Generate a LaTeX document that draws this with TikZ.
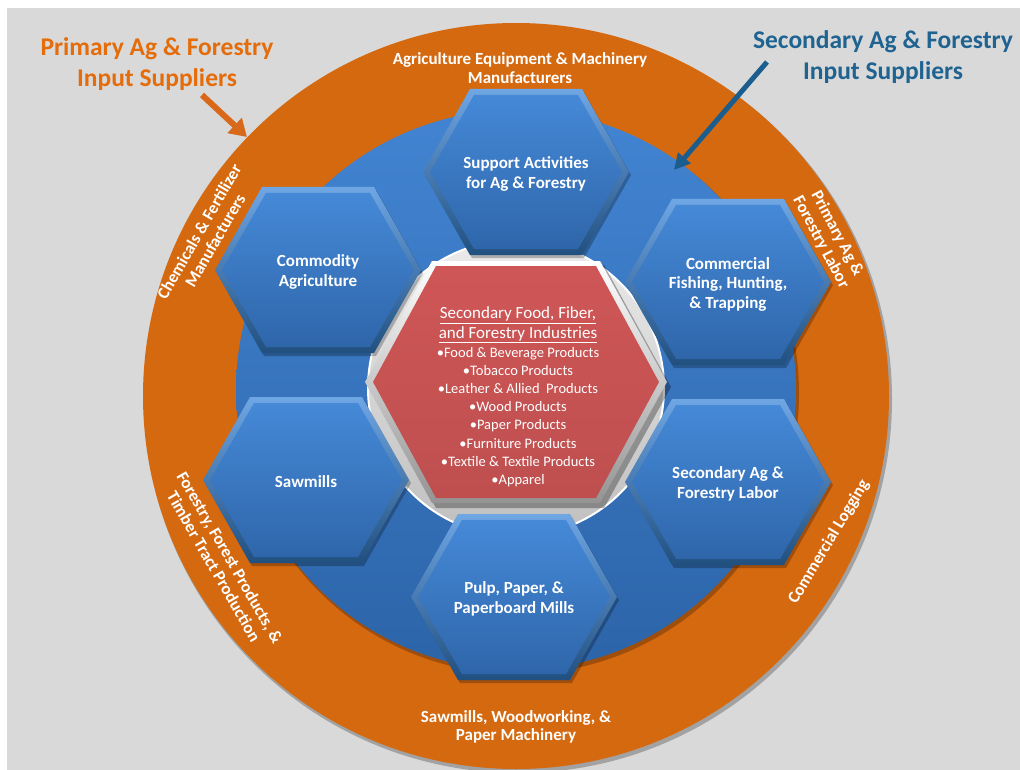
\documentclass[tikz,border=0pt]{standalone}
\usepackage{fontspec}
\setmainfont{Carlito}
\usetikzlibrary{arrows.meta}
\definecolor{bg}{HTML}{D9D9D9}
\definecolor{ring}{HTML}{D5690F}
\definecolor{bluetop}{HTML}{4284D2}
\definecolor{bluebot}{HTML}{2C64A8}
\definecolor{hextop}{HTML}{4589D7}
\definecolor{hexbot}{HTML}{2F66AA}
\definecolor{rimtop}{HTML}{6FA6E4}
\definecolor{rimbot}{HTML}{21507F}
\definecolor{redfill}{HTML}{CF5656}
\definecolor{orangetxt}{HTML}{E46C0A}
\definecolor{bluetxt}{HTML}{1F6391}
\definecolor{orangearrow}{HTML}{D8691A}
\definecolor{bluearrow}{HTML}{1B5E8E}
\newcommand\bluehex[4]{%
  \fill[black,opacity=.25] ({#1-103+2},{#2+3}) -- ({#1-56+2},{#2-83+3}) -- ({#1+56+2},{#2-83+3}) -- ({#1+103+2},{#2+3}) -- ({#1+56+2},{#2+83+3}) -- ({#1-56+2},{#2+83+3}) -- cycle;
  \path[top color=rimtop,bottom color=rimbot] ({#1-103},{#2}) -- ({#1-56},{#2-83}) -- ({#1+56},{#2-83}) -- ({#1+103},{#2}) -- ({#1+56},{#2+83}) -- ({#1-56},{#2+83}) -- cycle;
  \path[top color=hextop,bottom color=hexbot] ({#1-96},{#2}) -- ({#1-52},{#2-77}) -- ({#1+52},{#2-77}) -- ({#1+96},{#2}) -- ({#1+52},{#2+77}) -- ({#1-52},{#2+77}) -- cycle;
  \node[hextext] (#3) at (#1,{#2+2}) {#4};
}
\begin{document}
\begin{tikzpicture}[x=1pt,y=-1pt,
  hextext/.style={text=white,font=\bfseries\fontsize{17}{19.5}\selectfont,align=center},
  ringtext/.style={text=white,font=\bfseries\fontsize{17}{18.5}\selectfont,align=center},
  biglabel/.style={font=\bfseries\fontsize{25.5}{31.5}\selectfont,align=center},
  redtitle/.style={text=white,font=\fontsize{17}{19.5}\selectfont,align=center},
  reditems/.style={text=white,font=\fontsize{14.5}{18.1}\selectfont,align=center}]
\useasboundingbox (0,0) rectangle (1020,770);
\fill[white] (0,0) rectangle (1020,770);
\fill[bg] (7,8) rectangle (1020,770);
% orange ring
\fill[black,opacity=.25] (518,399) circle[radius=374];
\fill[ring] (516,396) circle[radius=373];
% blue ring
\fill[black,opacity=.25] (518,393) circle[radius=281];
\path[top color=bluetop,bottom color=bluebot] (516,390) circle[radius=280];
% gray circle
\path[top color=white!92!black,bottom color=white!75!black,draw=white,line width=2] (516,388) circle[radius=148];
% blue hexagons
\bluehex{526}{172}{support}{Support Activities\\for Ag \& Forestry}
\bluehex{318}{270}{commodity}{Commodity\\Agriculture}
\bluehex{728}{282}{fishing}{Commercial\\Fishing, Hunting,\\\& Trapping}
\bluehex{306}{480}{sawmills}{Sawmills}
\bluehex{728}{482}{seclabor}{Secondary Ag \&\\Forestry Labor}
\bluehex{514}{597}{pulp}{Pulp, Paper, \&\\Paperboard Mills}
% red hexagon
\fill[black,opacity=.3] (369,387) -- (436,265) -- (604,265) -- (671,387) -- (604,508) -- (436,508) -- cycle;
\path[top color=white,bottom color=white!58!black] (365,382) -- (432,261) -- (600,261) -- (667,382) -- (600,503) -- (432,503) -- cycle;
\path[top color=redfill!100!white,bottom color=redfill!92!black] (373,382) -- (436,266) -- (596,266) -- (659,382) -- (596,498) -- (436,498) -- cycle;
\node[redtitle] (redtitle) at (518,325) {\underline{Secondary Food, Fiber,}\\\underline{and Forestry Industries}};
\node[reditems] (reditems) at (518,417) {•Food \& Beverage Products\\•Tobacco Products\\•Leather \& Allied\ \ Products\\•Wood Products\\•Paper Products\\•Furniture Products\\•Textile \& Textile Products\\•Apparel};
% ring labels
\node[ringtext] (equip) at (520,68) {Agriculture Equipment \& Machinery\\Manufacturers};
\node[ringtext,rotate=60] (chem) at (207,236) {Chemicals \& Fertilizer\\Manufacturers};
\node[ringtext,rotate=-62] (plabor) at (829,238) {Primary Ag \&\\Forestry Labor};
\node[ringtext,rotate=-60] (forestry) at (222,562) {Forestry, Forest Products, \&\\Timber Tract Production};
\node[ringtext,rotate=59] (logging) at (829,542) {Commercial Logging};
\node[ringtext] (machinery) at (516,727) {Sawmills, Woodworking, \&\\Paper Machinery};
% big labels
\node[biglabel,text=orangetxt] (primary) at (157,64) {Primary Ag \& Forestry\\Input Suppliers};
\node[biglabel,text=bluetxt] (secondary) at (883,57) {Secondary Ag \& Forestry\\Input Suppliers};
% arrows
\coordinate (otail) at (202,95);
\coordinate (otip) at (247,137);
\coordinate (btail) at (767,62);
\coordinate (btip) at (674,170);
\draw[orangearrow,line width=6,-{Triangle[length=17pt,width=20pt]}] (otail) -- (otip);
\draw[bluearrow,line width=5,-{Triangle[length=16pt,width=16pt]}] (btail) -- (btip);
\end{tikzpicture}
\end{document}
